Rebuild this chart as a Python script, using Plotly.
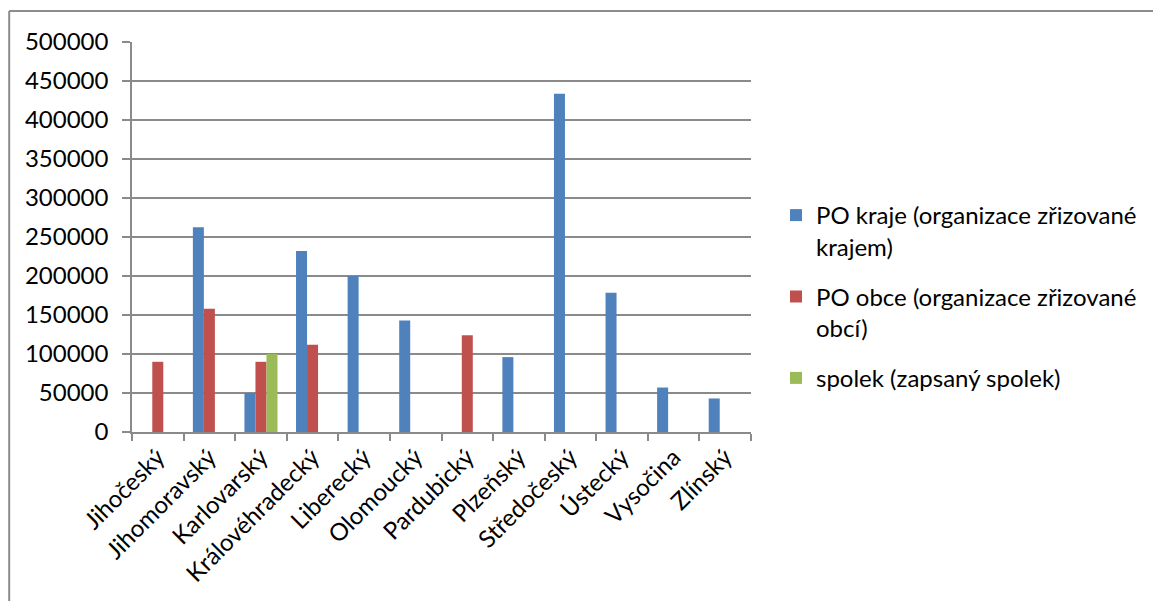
import plotly.graph_objects as go

categories = ["Jihočeský", "Jihomoravský", "Karlovarský", "Královéhradecký", "Liberecký",
              "Olomoucký", "Pardubický", "Plzeňský", "Středočeský", "Ústecký", "Vysočina", "Zlínský"]
po_kraje = [None, 262500, 50000, 232000, 200000, 143000, None, 96000, 433500, 178500, 57000, 43000]
po_obce = [90000, 158000, 90000, 112000, None, None, 124000, None, None, None, None, None]
spolek = [None, None, 100000, None, None, None, None, None, None, None, None, None]
series_names = ["PO kraje (organizace zřizované<br>krajem)",
                "PO obce (organizace zřizované<br>obcí)",
                "spolek (zapsaný spolek)"]
colors = ["#4F81BD", "#C0504D", "#9BBB59"]
y_ticks = [0, 50000, 100000, 150000, 200000, 250000, 300000, 350000, 400000, 450000, 500000]

FONT = "Lato"
FS = 24
OFF = 8  # page body margin
W, H = 1161 - 2 * OFF, 609 - 2 * OFF
L, T = 132 - OFF, 42 - OFF
R = W - (752 - OFF)
B = H - (432 - OFF)
pw, ph = W - L - R, H - T - B

fig = go.Figure()
for i, (name, vals, col) in enumerate(zip(series_names, [po_kraje, po_obce, spolek], colors)):
    fig.add_trace(go.Bar(x=categories, y=vals, name=name, marker_color=col,
                         marker_line_width=0, legendgroup=f"g{i}"))

grid = "#8a8a8a"
leg_left = 776 - OFF
leg_top = 193 - OFF
fig.update_layout(
    width=W, height=H,
    margin=dict(l=L, r=R, t=T, b=B, pad=0),
    paper_bgcolor="white", plot_bgcolor="white",
    barmode="group", bargap=0.36, bargroupgap=0,
    font=dict(family=FONT, size=FS, color="black"),
    legend=dict(x=(leg_left - L) / pw, y=(H - B - leg_top) / ph, xanchor="left", yanchor="top",
                valign="top", font=dict(family=FONT, size=FS), tracegroupgap=16,
                itemwidth=30, bgcolor="rgba(0,0,0,0)"),
    showlegend=True,
)
fig.update_xaxes(type="category", tickson="boundaries", ticks="outside", ticklen=7,
                 tickcolor=grid, tickwidth=1.5, showline=True, linecolor=grid, linewidth=1.5,
                 showgrid=False, tickangle=-45, tickfont=dict(family=FONT, size=FS))
fig.update_yaxes(range=[0, 500000], tickvals=y_ticks, ticktext=[str(v) for v in y_ticks],
                 ticks="outside", ticklen=8, tickcolor=grid, tickwidth=1.5,
                 showline=True, linecolor=grid, linewidth=1.5,
                 showgrid=True, gridcolor=grid, gridwidth=1.5, zeroline=False,
                 ticklabelstandoff=9, tickfont=dict(family=FONT, size=FS))

# outer chart border (top and left visible)
bx0 = (9 - OFF - L) / pw
by1 = (H - B - (11 - OFF)) / ph
fig.add_shape(type="line", xref="paper", yref="paper", x0=bx0, x1=2.0, y0=by1, y1=by1,
              line=dict(color="#8c8c8c", width=2))
fig.add_shape(type="line", xref="paper", yref="paper", x0=bx0, x1=bx0, y0=by1, y1=-1.0,
              line=dict(color="#8c8c8c", width=2))

fig.write_html("out.html")
